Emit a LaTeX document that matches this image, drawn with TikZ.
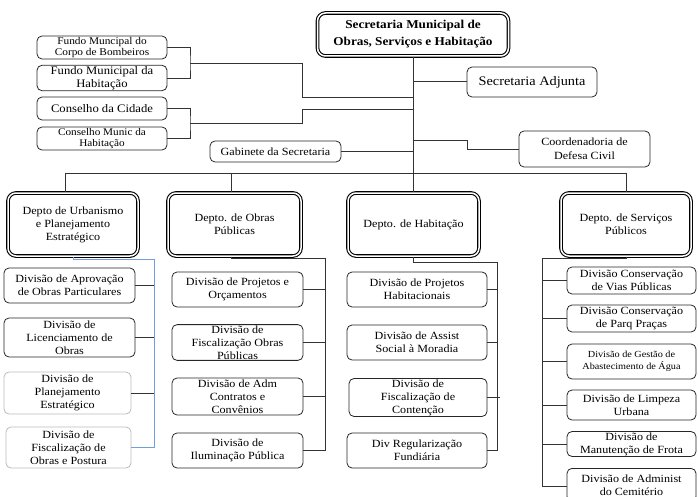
\documentclass[tikz,border=0pt]{standalone}
\usepackage{fontspec}
\setmainfont{Liberation Serif}[FakeStretch=1.1]
\definecolor{lineg}{HTML}{333333}
\definecolor{lightb}{HTML}{BBBBBB}
\definecolor{bluel}{HTML}{6F9FDC}
\tikzset{
  box/.style={draw=black!85, line width=0.8pt, rounded corners=5pt, align=center,
    inner sep=1pt, font=\fontsize{11}{13}\selectfont},
  softbox/.style={box, draw=lightb},
  dbox/.style={draw=black, line width=1.1pt, double, double distance=1.5pt,
    rounded corners=8pt, align=center, inner sep=1pt, font=\fontsize{11}{13}\selectfont},
  wh/.style 2 args={minimum width=#1pt, minimum height=#2pt},
  link/.style={draw=lineg, line width=0.85pt},
  bluelink/.style={draw=bluel, line width=0.85pt},
}
\begin{document}
\begin{tikzpicture}[x=1pt,y=-1pt]
\useasboundingbox (0,0) rectangle (698,497);
\clip (0,0) rectangle (698,497);

% top of the hierarchy
\node[dbox, wh={191}{43}, font=\bfseries\fontsize{12}{17}\selectfont] (sec) at (413,34.5)
  {Secretaria Municipal de\\Obras, Serviços e Habitação};

% councils and funds on the left
\node[box, wh={130}{23}, font=\fontsize{10.3}{11}\selectfont] (fcb) at (102,47.5) {Fundo Muncipal do\\Corpo de Bombeiros};
\node[box, wh={130}{22}, font=\fontsize{11.5}{13}\selectfont] (fmh) at (102,78) {Fundo Municipal da\\Habitação};
\node[box, wh={130}{23}, font=\fontsize{11.5}{13}\selectfont] (cc) at (102,108.5) {Conselho da Cidade};
\node[box, wh={130}{23}, font=\fontsize{10.2}{11.5}\selectfont] (cmh) at (102,138.5) {Conselho Munic da\\Habitação};
\node[box, wh={131}{21}, font=\fontsize{11}{12}\selectfont] (gab) at (275.5,151.5) {Gabinete da Secretaria};

% staff units on the right
\node[box, wh={130}{30}, font=\fontsize{13}{15}\selectfont] (adj) at (532,82) {Secretaria Adjunta};
\node[box, wh={131}{36}, font=\fontsize{11}{14}\selectfont] (cdc) at (584.5,149) {Coordenadoria de\\Defesa Civil};

% departments
\node[dbox, wh={130}{63}] (urb) at (73,224.5) {Depto de Urbanismo\\e Planejamento\\Estratégico};
\node[dbox, wh={133}{63}] (obr) at (234.5,224.5) {Depto. de  Obras\\Públicas};
\node[dbox, wh={131}{63}] (hab) at (413.5,224.5) {Depto. de  Habitação};
\node[dbox, wh={130}{63}] (srv) at (626,224.5) {Depto. de  Serviços\\Públicos};

% divisions of urbanism
\node[box, wh={131}{35}] (u1) at (69.5,285.5) {Divisão de Aprovação\\de Obras Particulares};
\node[box, wh={131}{39}] (u2) at (69.5,337.5) {Divisão de\\Licenciamento de\\Obras};
\node[softbox, wh={127}{42}] (u3) at (67.5,393) {Divisão de\\Planejamento\\Estratégico};
\node[softbox, wh={125}{41}] (u4) at (68.5,447.5) {Divisão de\\Fiscalização de\\Obras e Postura};

% divisions of public works
\node[box, wh={131}{35}] (o1) at (237.5,289.5) {Divisão de Projetos e\\Orçamentos};
\node[box, wh={131}{35}] (o2) at (237.5,342.5) {Divisão de\\Fiscalização Obras\\Públicas};
\node[box, wh={131}{37}] (o3) at (237.5,396.5) {Divisão de Adm\\Contratos  e\\Convênios};
\node[box, wh={131}{35}] (o4) at (237.5,450.5) {Divisão de\\Iluminação Pública};

% divisions of housing
\node[box, wh={140}{35}] (h1) at (417,289.5) {Divisão de Projetos\\Habitacionais};
\node[box, wh={140}{35}] (h2) at (417,342.5) {Divisão de Assist\\Social à Moradia};
\node[box, wh={138}{35}] (h3) at (418,397.5) {Divisão de\\Fiscalização de\\Contenção};
\node[box, wh={140}{35}] (h4) at (417,450.5) {Div Regularização\\Fundiária};

% divisions of public services
\node[box, wh={129}{27}] (s1) at (631.5,280.5) {Divisão Conservação\\de Vias Públicas};
\node[box, wh={129}{27}] (s2) at (631.5,318.5) {Divisão Conservação\\de Parq Praças};
\node[box, wh={129}{35}, font=\fontsize{9.3}{12}\selectfont] (s3) at (631.5,361.5) {Divisão de Gestão de\\Abastecimento de Água};
\node[box, wh={129}{30}] (s4) at (631.5,405) {Divisão de Limpeza\\Urbana};
\node[box, wh={129}{24}] (s5) at (631.5,444) {Divisão de\\Manutenção de Frota};
\node[box, wh={129}{33}, anchor=north] (s6) at (631.5,468) {Divisão de Administ\\do Cemitério};

% junction points
\coordinate (bus) at (413,173);
\coordinate (fb) at (190,63);
\coordinate (cb) at (190,123);

% main trunk and side branches
\draw[link] (sec.south) -- (bus);
\draw[link] (fcb.east) -| (fb) |- (fmh.east);
\draw[link] (fb) -- (302,63) -- (302,97) -- (413,97);
\draw[link] (cc.east) -| (cb) |- (cmh.east);
\draw[link] (cb) -- (302,123) -- (302,109) -- (413,109);
\draw[link] (413,81) -- (adj.west |- 0,81);
\draw[link] (413,140) -- (467,140) -- (467,149) -- (cdc.west);
\draw[link] (gab.east) -- (413,151.5);

% department bus
\draw[link] (65,173) -- (626,173);
\draw[link] (65,173) -- (65,0 |- urb.north);
\draw[link] (231,173) -- (231,0 |- obr.north);
\draw[link] (bus) -- (413,0 |- hab.north);
\draw[link] (626,173) -- (srv.north);

% urbanism branch
\draw[bluelink] (urb.south) -- (73,259) -- (154,259) -- (154,447.5) -- (u4.east);
\draw[link] (u1.east) -- (154,0 |- u1.east);
\draw[link] (u2.east) -- (154,0 |- u2.east);
\draw[link] (u3.east) -- (154,0 |- u3.east);

% public works branch
\draw[link] (231,0 |- obr.south) -- (231,258) -- (325,258) -- (325,450.5) -- (o4.east);
\foreach \n in {o1,o2,o3} \draw[link] (\n.east) -- (325,0 |- \n.east);

% housing branch
\draw[link] (hab.south) -- (413.5,262) -- (497,262) -- (497,450.5) -- (h4.east);
\draw[link] (h1.east) -- (497,0 |- h1.east);
\draw[link] (h2.east) -- (497,0 |- h2.east);
\draw[link] (h3.east) -- (500,0 |- h3.east);

% public services branch
\draw[link] (srv.south) -- (626,258) -- (542,258) -- (542,486) -- (s6.west |- 0,486);
\foreach \n in {s1,s2,s3,s4,s5} \draw[link] (542,0 |- \n.west) -- (\n.west);
\end{tikzpicture}
\end{document}
